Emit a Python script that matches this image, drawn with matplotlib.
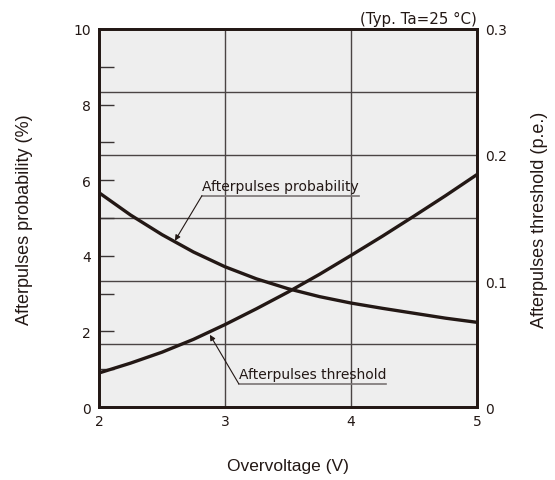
import matplotlib
matplotlib.use("Agg")
import matplotlib.pyplot as plt
import numpy as np

# Data
overvoltage = [2.0, 2.25, 2.5, 2.75, 3.0, 3.25, 3.5, 3.75, 4.0, 4.25, 4.5, 4.75, 5.0]
probability = [5.67, 5.08, 4.56, 4.10, 3.71, 3.39, 3.13, 2.92, 2.75, 2.61, 2.48, 2.35, 2.24]
threshold = [0.0270, 0.0348, 0.0435, 0.0537, 0.0654, 0.0780, 0.0912, 0.1053, 0.1203,
             0.1356, 0.1515, 0.1677, 0.1845]

x_ticks = [2, 3, 4, 5]
left_ticks = [0, 2, 4, 6, 8, 10]
right_ticks = [0, 0.1, 0.2, 0.3]
right_labels = ['0', '0.1', '0.2', '0.3']

plt.rcParams['font.family'] = ['DejaVu Sans']
W, H = 555, 481
fig = plt.figure(figsize=(W / 100, H / 100), dpi=100)
ax = fig.add_axes([99 / W, 1 - 408 / H, 378 / W, 378 / H])
ax.set_facecolor('#eeeeee')
ax.set_xlim(2, 5)
ax.set_ylim(0, 10)

ink = '#231815'
gc = '#4a4444'
for xv in [3, 4]:
    ax.axvline(xv, color=gc, lw=1.0, zorder=1)
for yv in np.arange(1, 6) * 10 / 6:
    ax.axhline(yv, color=gc, lw=1.0, zorder=1)

ax.plot(overvoltage, probability, color=ink, lw=2.4, zorder=3,
        solid_joinstyle='round', solid_capstyle='butt')

ax2 = ax.twinx()
ax2.set_ylim(0, 0.3)
ax2.plot(overvoltage, threshold, color=ink, lw=2.4, zorder=3,
         solid_joinstyle='round', solid_capstyle='butt')

fs = 10
ax.set_xticks(x_ticks)
ax.set_xticklabels([str(v) for v in x_ticks], fontsize=fs, color=ink)
ax.set_yticks(left_ticks)
ax.set_yticklabels([str(v) for v in left_ticks], fontsize=fs, color=ink)
ax.set_yticks(range(1, 10), minor=True)
ax.tick_params(axis='y', which='both', direction='in', length=11, width=1.0, color='#3a3434', pad=6)
ax.tick_params(axis='x', length=0, pad=5)
ax2.set_yticks(right_ticks)
ax2.set_yticklabels(right_labels, fontsize=fs, color=ink)
ax2.tick_params(axis='y', length=0, pad=6)

for a in (ax, ax2):
    for s in a.spines.values():
        s.set_linewidth(2.0)
        s.set_color(ink)

lab_font = ['Liberation Sans', 'DejaVu Sans']
fig.text(25 / W, 1 - 220 / H, 'Afterpulses probability (%)', rotation=90,
         ha='center', va='center', fontsize=13, color=ink, family=lab_font)
fig.text(539 / W, 1 - 220 / H, 'Afterpulses threshold (p.e.)', rotation=90,
         ha='center', va='center', fontsize=13, color=ink, family=lab_font)
fig.text(288 / W, 1 - 467 / H, 'Overvoltage (V)', ha='center', va='center',
         fontsize=12.5, color=ink, family=lab_font)

ax.text(5.0, 10.08, '(Typ. Ta=25 °C)', ha='right', va='bottom', fontsize=10.8, color=ink)

fig.canvas.draw()
renderer = fig.canvas.get_renderer()

def label(text, xy_text, xy_tip):
    t = ax.text(xy_text[0], xy_text[1] + 0.08, text, ha='left', va='bottom',
                fontsize=fs, color=ink, zorder=5)
    bb = t.get_window_extent(renderer=renderer)
    inv = ax.transData.inverted()
    x1 = inv.transform((bb.x1, bb.y0))[0]
    ax.plot([xy_text[0], x1], [xy_text[1], xy_text[1]], color='#7a7474', lw=1.2, zorder=5)
    ax.annotate('', xy=xy_tip, xytext=xy_text,
                arrowprops=dict(arrowstyle='-|>', color=ink, lw=0.8,
                                mutation_scale=8, shrinkA=0, shrinkB=0), zorder=5)

label('Afterpulses probability', (2.817, 5.59), (2.603, 4.40))
label('Afterpulses threshold', (3.11, 0.61), (2.88, 1.91))

fig.savefig('out.png', dpi=100)
